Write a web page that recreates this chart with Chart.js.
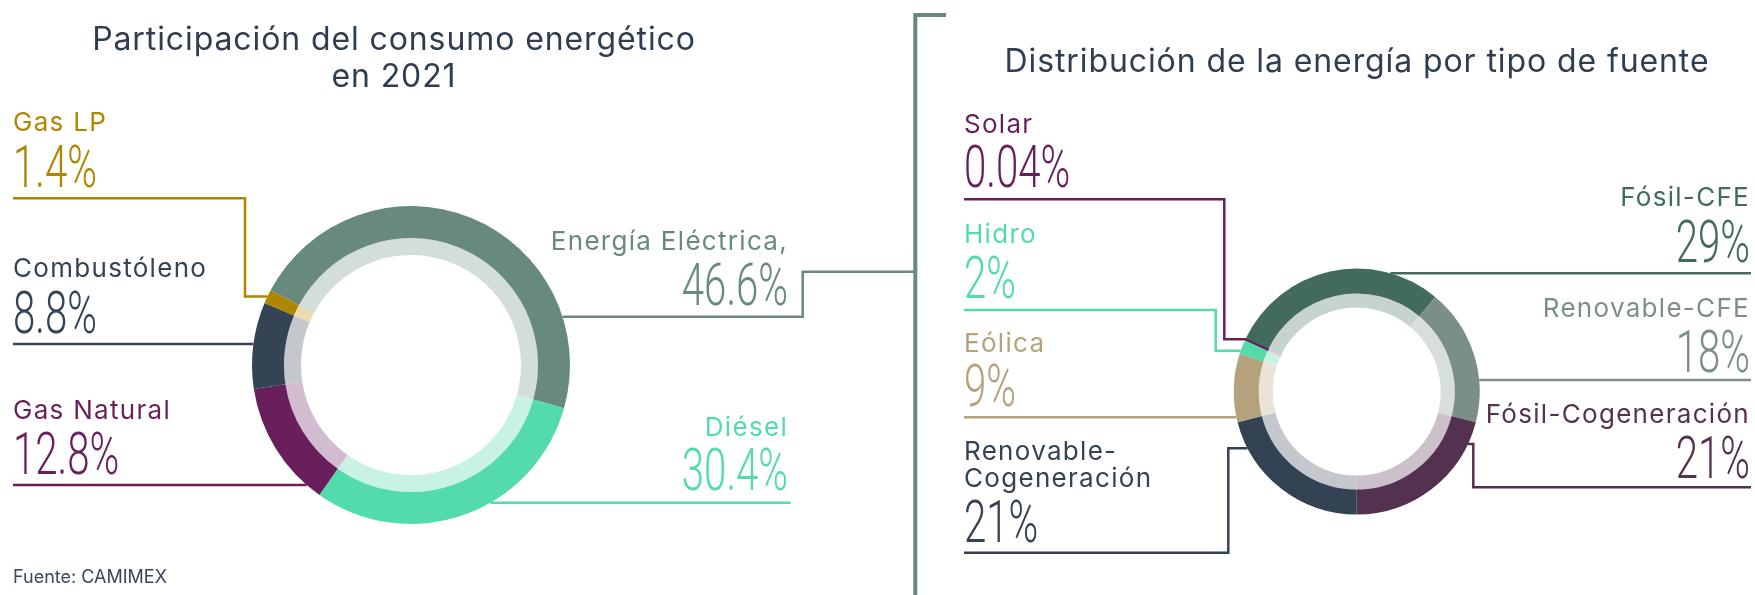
<!DOCTYPE html>
<html lang="es">
<head>
<meta charset="utf-8">
<title>Consumo energético 2021</title>
<script src="https://cdn.jsdelivr.net/npm/chart.js@4/dist/chart.umd.min.js"></script>
<style>
  html, body { margin: 0; padding: 0; background: #ffffff; }
  #stage { position: relative; width: 1755px; height: 595px; overflow: hidden; }
  #stage canvas, #stage svg { position: absolute; left: 0; top: 0; }
  .name { font-family: Inter, "Noto Sans", sans-serif; font-size: 26px; font-weight: 400; letter-spacing: 1.3px; }
  .value { font-family: Roboto, "Noto Sans", sans-serif; font-size: 60px; font-weight: 300; }
  .title { font-family: Inter, "Noto Sans", sans-serif; font-size: 32px; font-weight: 400; letter-spacing: 0.9px; fill: #2f3e4f; }
  .source { font-family: Inter, "Noto Sans", sans-serif; font-size: 18px; fill: #3a4858; }
</style>
</head>
<body>
<div id="stage">
  <canvas id="consumo" width="1755" height="595"></canvas>
  <canvas id="fuentes" width="1755" height="595"></canvas>
  <svg id="texts" width="1755" height="595" xmlns="http://www.w3.org/2000/svg"></svg>
</div>
<script>
// Participación del consumo energético en 2021 (%)
const consumoLabels = ['Energía Eléctrica', 'Diésel', 'Gas Natural', 'Combustóleno', 'Gas LP'];
const consumoValues = [46.6, 30.4, 12.8, 8.8, 1.4];
const consumoColors = ['#678a7c', '#53dbac', '#681f5c', '#344455', '#b08500'];
const consumoTints  = ['#d3ddd9', '#c8f2e3', '#d2bdd0', '#c4c8cd', '#ebdcb0'];

// Distribución de la energía por tipo de fuente (%)
const fuenteLabels = ['Fósil-CFE', 'Renovable-CFE', 'Fósil-Cogeneración', 'Renovable-Cogeneración', 'Eólica', 'Hidro', 'Solar'];
const fuenteValues = [29, 18, 21, 21, 9, 2, 0.04];
const fuenteColors = ['#436b5c', '#7c8f87', '#54324f', '#334354', '#b5a27c', '#53dbac', '#681f5c'];
const fuenteTints  = ['#c6d3ce', '#d8dedc', '#ccc0cb', '#c4c8cd', '#e9e3d8', '#c8f2e3', '#e6c5e0'];

// Label placement: text anchor, baselines and leader-line routing
const consumoLayout = [
  { side: 'right', x: 788, nameY: 250, valueY: 305, lineY: 316.7, lineX: 802.7, lead: [[915, 271.7], [802.7, 271.7]], suffix: ',' },
  { side: 'right', x: 788, nameY: 436, valueY: 490, lineY: 502.7, lineX: 790.7 },
  { side: 'left',  x: 13,  nameY: 419.3, valueY: 474, lineY: 485, lineX: 13 },
  { side: 'left',  x: 13,  nameY: 276.7, valueY: 333.3, lineY: 344, lineX: 13 },
  { side: 'left',  x: 13,  nameY: 130.7, valueY: 186.7, lineY: 198.3, lineX: 13, elbowX: 245, hook: 'mid' }
];
const fuenteLayout = [
  { side: 'right', x: 1750, nameY: 206, valueY: 261.7, lineY: 273.3, lineX: 1751 },
  { side: 'right', x: 1750, nameY: 316.7, valueY: 371.7, lineY: 380, lineX: 1751 },
  { side: 'right', x: 1750, nameY: 423.3, valueY: 478.3, lineY: 487.3, lineX: 1751, elbowX: 1473.3, hook: 444 },
  { side: 'left',  x: 964, nameY: 460, valueY: 541.7, lineY: 552.7, lineX: 964, elbowX: 1228.3, hook: 448.3, wrap: 26.7 },
  { side: 'left',  x: 964, nameY: 351.7, valueY: 406, lineY: 417.3, lineX: 964 },
  { side: 'left',  x: 964, nameY: 243.3, valueY: 298.3, lineY: 310, lineX: 964, elbowX: 1215.7, hook: 350.7 },
  { side: 'left',  x: 964, nameY: 133.3, valueY: 187.3, lineY: 199.3, lineX: 964, elbowX: 1224.3, hook: 'mid' }
];

// Leader lines from each label to its arc, computed from the arc geometry
function leaders(layout, colors) {
  return {
    id: 'leaders',
    afterDatasetsDraw(chart) {
      const ctx = chart.ctx;
      const arcs = chart.getDatasetMeta(0).data;
      layout.forEach((L, i) => {
        const a = arcs[i].getProps(['x', 'y', 'outerRadius', 'startAngle', 'endAngle'], true);
        const dir = L.side === 'left' ? -1 : 1;
        const edgeX = y => a.x + dir * Math.sqrt(Math.max(a.outerRadius * a.outerRadius - (y - a.y) * (y - a.y), 0));
        let ax, ay;
        if (L.hook === 'mid') {
          const m = (a.startAngle + a.endAngle) / 2;
          ax = a.x + a.outerRadius * Math.cos(m);
          ay = a.y + a.outerRadius * Math.sin(m);
        } else {
          ay = L.hook !== undefined ? L.hook : L.lineY;
          ax = edgeX(ay);
        }
        const pts = [...(L.lead || []), [L.lineX, L.lineY]];
        if (L.elbowX !== undefined) pts.push([L.elbowX, L.lineY], [L.elbowX, ay]);
        pts.push([ax, ay]);
        ctx.save();
        ctx.strokeStyle = colors[i];
        ctx.lineWidth = 2.5;
        ctx.lineJoin = 'miter';
        ctx.beginPath();
        pts.forEach((p, k) => (k ? ctx.lineTo(p[0], p[1]) : ctx.moveTo(p[0], p[1])));
        ctx.stroke();
        ctx.restore();
      });
    }
  };
}

function ringChart(id, labels, values, colors, tints, opts) {
  const borders = opts.borderWidths || values.map(() => 0);
  return new Chart(document.getElementById(id), {
    type: 'doughnut',
    data: {
      labels: labels,
      datasets: [
        { data: values, backgroundColor: colors, borderColor: colors, borderWidth: borders,
          hoverBorderWidth: borders, offset: 0, hoverOffset: 0, weight: opts.outerWeight },
        { data: values, backgroundColor: tints, borderColor: tints, borderWidth: borders,
          hoverBorderWidth: borders, offset: 0, hoverOffset: 0, weight: opts.innerWeight }
      ]
    },
    options: {
      responsive: false,
      animation: false,
      events: [],
      rotation: opts.rotation,
      cutout: opts.cutout,
      layout: { padding: opts.padding },
      plugins: { legend: { display: false }, tooltip: { enabled: false }, title: { display: false } }
    },
    plugins: [leaders(opts.layout, colors)]
  });
}

ringChart('consumo', consumoLabels, consumoValues, consumoColors, consumoTints, {
  rotation: -62, cutout: '69.2%', outerWeight: 32, innerWeight: 17,
  padding: { left: 252, top: 206, right: 1185, bottom: 71 },
  layout: consumoLayout
});
ringChart('fuentes', fuenteLabels, fuenteValues, fuenteColors, fuenteTints, {
  rotation: -64.7, cutout: '68.3%', outerWeight: 25, innerWeight: 14,
  borderWidths: [0, 0, 0, 0, 0, 0, 2],
  padding: { left: 1232.7, top: 267.6, right: 274.3, bottom: 79.4 },
  layout: fuenteLayout
});

// Titles, labels, divider and source note
const svg = document.getElementById('texts');
const NS = 'http://www.w3.org/2000/svg';
function el(tag, attrs, text) {
  const e = document.createElementNS(NS, tag);
  for (const k in attrs) e.setAttribute(k, attrs[k]);
  if (text !== undefined) e.textContent = text;
  svg.appendChild(e);
  return e;
}
el('path', { d: 'M946 15 H915.3 V595', fill: 'none', stroke: '#678a7c', 'stroke-width': 4 });
el('text', { class: 'title', x: 394, y: 50, 'text-anchor': 'middle' }, 'Participación del consumo energético');
el('text', { class: 'title', x: 394, y: 87.3, 'text-anchor': 'middle' }, 'en 2021');
el('text', { class: 'title', x: 1357, y: 71.7, 'text-anchor': 'middle' }, 'Distribución de la energía por tipo de fuente');
el('text', { class: 'source', x: 13, y: 583.3 }, 'Fuente: CAMIMEX');

function drawLabels(labels, values, colors, layout) {
  layout.forEach((L, i) => {
    const anchor = L.side === 'left' ? 'start' : 'end';
    const name = labels[i] + (L.suffix || '');
    if (L.wrap) {
      const cut = name.indexOf('-') + 1;
      el('text', { class: 'name', x: L.x, y: L.nameY, fill: colors[i], 'text-anchor': anchor }, name.slice(0, cut));
      el('text', { class: 'name', x: L.x, y: L.nameY + L.wrap, fill: colors[i], 'text-anchor': anchor }, name.slice(cut));
    } else {
      el('text', { class: 'name', x: L.x, y: L.nameY, fill: colors[i], 'text-anchor': anchor }, name);
    }
    el('text', { class: 'value', transform: `translate(${L.x} ${L.valueY}) scale(0.67 1)`, fill: colors[i], 'text-anchor': anchor },
       values[i] + '%');
  });
}
drawLabels(consumoLabels, consumoValues, consumoColors, consumoLayout);
drawLabels(fuenteLabels, fuenteValues, fuenteColors, fuenteLayout);
</script>
</body>
</html>
